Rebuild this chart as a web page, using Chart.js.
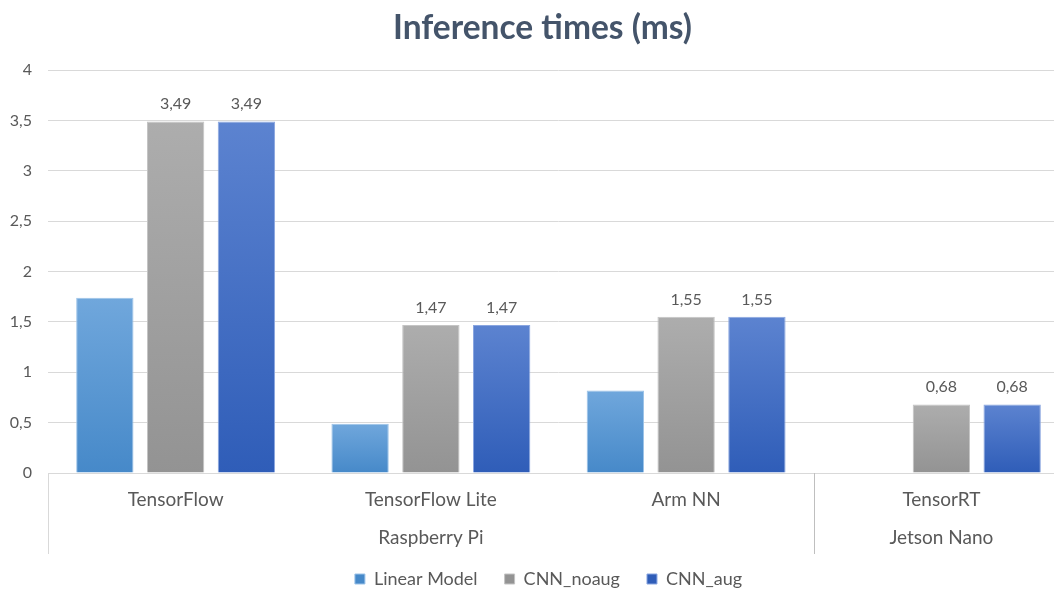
<!DOCTYPE html>
<html>
<head>
<meta charset="utf-8">
<title>Inference times (ms)</title>
<script src="https://cdn.jsdelivr.net/npm/chart.js@4/dist/chart.umd.min.js"></script>
<style>
  html, body { margin: 0; padding: 0; background: #ffffff; overflow: hidden; }
  #wrap { width: 1054px; height: 590px; overflow: hidden; position: relative; }
  canvas { display: block; }
</style>
</head>
<body>
<div id="wrap"><canvas id="chart" width="1085" height="590"></canvas></div>
<script>
// Frameworks benchmarked, and the board each one ran on
const categories = ['TensorFlow', 'TensorFlow Lite', 'Arm NN', 'TensorRT'];
const boards = ['Raspberry Pi', 'Raspberry Pi', 'Raspberry Pi', 'Jetson Nano'];

// Inference time per model, in milliseconds
const linearModel = [1.74, 0.49, 0.82, null];
const cnnNoaug = [3.49, 1.47, 1.55, 0.68];
const cnnAug = [3.49, 1.47, 1.55, 0.68];

// Value axis
const yTicks = [0, 0.5, 1, 1.5, 2, 2.5, 3, 3.5, 4];

const FONT = 'Lato, "Open Sans", sans-serif';
const TEXT = '#595959';
const GRID = '#d9d9d9';

const comma = v => String(v).replace('.', ',');

// Vertical gradient spanning each individual bar
function barFill(top, bottom, solid) {
  return function (ctx) {
    if (ctx.type !== 'data') return solid;
    const chart = ctx.chart;
    const y = chart.scales.y;
    if (!y || ctx.raw == null) return solid;
    const y0 = y.getPixelForValue(ctx.raw);
    const y1 = y.getPixelForValue(0);
    if (!isFinite(y0) || !isFinite(y1) || y0 === y1) return solid;
    const g = chart.ctx.createLinearGradient(0, y0, 0, y1);
    g.addColorStop(0, top);
    g.addColorStop(1, bottom);
    return g;
  };
}

// Value labels above bars of the series that show them
const valueLabels = {
  id: 'valueLabels',
  afterDatasetsDraw(chart) {
    const c = chart.ctx;
    c.save();
    c.font = '16px ' + FONT;
    c.fillStyle = TEXT;
    c.textAlign = 'center';
    c.textBaseline = 'alphabetic';
    chart.data.datasets.forEach((ds, i) => {
      if (!ds.showValues) return;
      const meta = chart.getDatasetMeta(i);
      meta.data.forEach((bar, j) => {
        const v = ds.data[j];
        if (v == null) return;
        c.fillText(v.toFixed(2).replace('.', ','), bar.x, bar.y - 12);
      });
    });
    c.restore();
  }
};

// Second row of category labels (board) with separators between boards
const boardAxis = {
  id: 'boardAxis',
  afterDraw(chart) {
    const x = chart.scales.x;
    const area = chart.chartArea;
    const c = chart.ctx;
    const half = (x.getPixelForValue(1) - x.getPixelForValue(0)) / 2;
    const groups = [];
    boards.forEach((b, i) => {
      const last = groups[groups.length - 1];
      if (last && last.name === b) last.end = i;
      else groups.push({ name: b, start: i, end: i });
    });
    c.save();
    c.font = '19px ' + FONT;
    c.fillStyle = TEXT;
    c.textAlign = 'center';
    c.textBaseline = 'middle';
    const lineBottom = area.bottom + 81;
    groups.forEach((g, k) => {
      const left = x.getPixelForValue(g.start) - half;
      const right = x.getPixelForValue(g.end) + half;
      c.fillText(g.name, (left + right) / 2, area.bottom + 65);
      c.strokeStyle = k === 0 ? GRID : '#bfbfbf';
      c.lineWidth = 1;
      c.beginPath();
      c.moveTo(Math.round(left) + 0.5, area.bottom);
      c.lineTo(Math.round(left) + 0.5, lineBottom);
      c.stroke();
      if (k === groups.length - 1) {
        c.beginPath();
        c.moveTo(Math.round(right) + 0.5, area.bottom);
        c.lineTo(Math.round(right) + 0.5, lineBottom);
        c.stroke();
      }
    });
    c.restore();
  }
};

// Centre the title and legend on the whole chart frame rather than the
// area left of the right margin
const frameCentering = {
  id: 'frameCentering',
  afterLayout(chart) {
    if (chart.titleBlock) chart.titleBlock.left += 16;
    if (chart.legend) chart.legend.left += 28;
  }
};

new Chart(document.getElementById('chart'), {
  type: 'bar',
  data: {
    labels: categories,
    datasets: [
      {
        label: 'Linear Model',
        data: linearModel,
        backgroundColor: barFill('#70a7dc', '#4689c9', '#5b9bd5'),
        borderColor: '#9cc3e8',
        borderWidth: 1,
        showValues: false
      },
      {
        label: 'CNN_noaug',
        data: cnnNoaug,
        backgroundColor: barFill('#adadad', '#939393', '#a5a5a5'),
        borderColor: '#c4c4c4',
        borderWidth: 1,
        showValues: true
      },
      {
        label: 'CNN_aug',
        data: cnnAug,
        backgroundColor: barFill('#5c83d0', '#2f5db8', '#4472c4'),
        borderColor: '#8aa6e0',
        borderWidth: 1,
        showValues: true
      }
    ]
  },
  options: {
    responsive: false,
    animation: false,
    events: [],
    categoryPercentage: 0.832,
    barPercentage: 0.81,
    layout: { padding: { left: 0, right: 16, top: 0, bottom: -8 } },
    plugins: {
      title: {
        display: true,
        text: 'Inference times (ms)',
        color: '#44546a',
        font: { family: FONT, size: 33.5, weight: 'bold' },
        padding: { top: 8, bottom: 21.8 }
      },
      legend: {
        position: 'bottom',
        labels: {
          color: TEXT,
          font: { family: FONT, size: 18 },
          boxWidth: 10,
          boxHeight: 10,
          padding: 27
        }
      },
      tooltip: { enabled: false }
    },
    scales: {
      x: {
        grid: { display: false, drawTicks: false },
        border: { display: true, color: GRID, width: 1 },
        ticks: {
          color: TEXT,
          font: { family: FONT, size: 19 },
          padding: 15
        },
        afterFit(scale) { scale.height = 70; }
      },
      y: {
        min: 0,
        max: 4,
        afterBuildTicks(scale) { scale.ticks = yTicks.map(v => ({ value: v })); },
        grid: { color: GRID, lineWidth: 1, drawTicks: false },
        border: { display: false },
        ticks: {
          color: TEXT,
          font: { family: FONT, size: 16 },
          padding: 16,
          callback: v => comma(v)
        },
        afterFit(scale) { scale.width = 48; }
      }
    }
  },
  plugins: [valueLabels, boardAxis, frameCentering]
});
</script>
</body>
</html>
